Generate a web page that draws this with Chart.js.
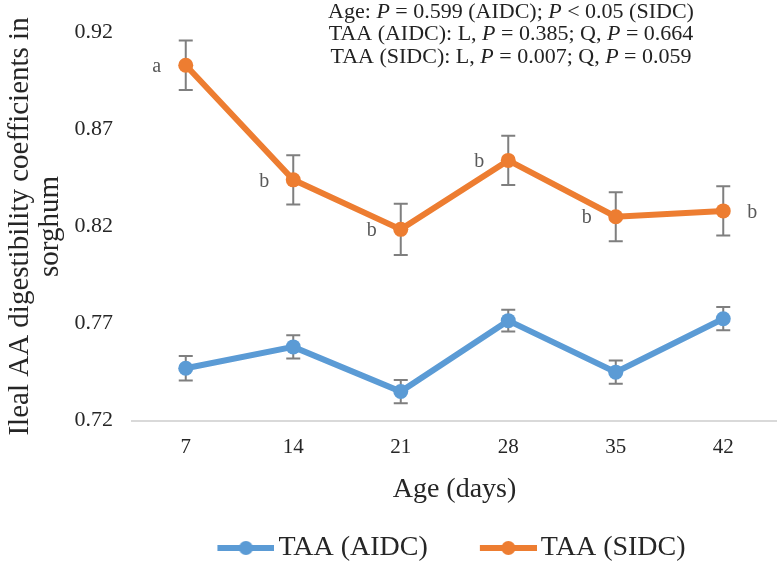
<!DOCTYPE html>
<html>
<head>
    <title>Ileal AA digestibility of sorghum by age</title>
    <script src="https://cdn.jsdelivr.net/npm/chart.js"></script>
    <style>
        body { margin: 0; background: #ffffff; }
        #wrap { width: 777px; height: 563px; position: relative; }
    </style>
</head>
<body>
    <div id="wrap"><canvas id="aaChart"></canvas></div>

    <script>
        // Data
        var ageDays = ['7', '14', '21', '28', '35', '42'];
        var taaAidc = [0.747, 0.758, 0.735, 0.7715, 0.745, 0.7725];
        var taaSidc = [0.903, 0.844, 0.8185, 0.854, 0.825, 0.828];
        var seAidc = [0.0063, 0.006, 0.006, 0.0056, 0.006, 0.006];
        var seSidc = [0.0127, 0.0127, 0.0132, 0.0127, 0.0126, 0.0127];
        var sidcLetters = ['a', 'b', 'b', 'b', 'b', 'b'];
        var yTicks = [0.72, 0.77, 0.82, 0.87, 0.92];

        // Statistics note, [text, italic] runs per line
        var noteLines = [
            [['Age: ', false], ['P', true], [' = 0.599 (AIDC); ', false], ['P', true], [' < 0.05 (SIDC)', false]],
            [['TAA (AIDC): L, ', false], ['P', true], [' = 0.385; Q, ', false], ['P', true], [' = 0.664', false]],
            [['TAA (SIDC): L, ', false], ['P', true], [' = 0.007; Q, ', false], ['P', true], [' = 0.059', false]]
        ];

        var serif = '"Liberation Serif", "Times New Roman", serif';
        var blue = '#5B9BD5';
        var orange = '#ED7D31';

        // legend marker: line with a dot, drawn into a small canvas
        function legendIcon(color) {
            var c = document.createElement('canvas');
            c.width = 61;
            c.height = 16;
            var g = c.getContext('2d');
            g.strokeStyle = color;
            g.lineWidth = 6;
            g.beginPath();
            g.moveTo(4, 8);
            g.lineTo(61, 8);
            g.stroke();
            g.fillStyle = color;
            g.beginPath();
            g.arc(32.5, 8, 7, 0, Math.PI * 2);
            g.fill();
            return c;
        }

        var errorBars = {
            id: 'errorBars',
            beforeDatasetsDraw: function (chart) {
                var ctx = chart.ctx;
                var x = chart.scales.x, y = chart.scales.y;
                var sets = [seAidc, seSidc];
                ctx.save();
                ctx.strokeStyle = '#7f7f7f';
                ctx.lineWidth = 2;
                chart.data.datasets.forEach(function (ds, d) {
                    ds.data.forEach(function (v, i) {
                        var px = x.getPixelForValue(i);
                        var top = y.getPixelForValue(v + sets[d][i]);
                        var bot = y.getPixelForValue(v - sets[d][i]);
                        ctx.beginPath();
                        ctx.moveTo(px, top); ctx.lineTo(px, bot);
                        ctx.moveTo(px - 7, top); ctx.lineTo(px + 7, top);
                        ctx.moveTo(px - 7, bot); ctx.lineTo(px + 7, bot);
                        ctx.stroke();
                    });
                });
                ctx.restore();
            }
        };

        var letters = {
            id: 'letters',
            afterDatasetsDraw: function (chart, args, opts) {
                var ctx = chart.ctx;
                var x = chart.scales.x, y = chart.scales.y;
                ctx.save();
                ctx.font = '20px ' + serif;
                ctx.fillStyle = '#595959';
                ctx.textAlign = 'center';
                ctx.textBaseline = 'middle';
                sidcLetters.forEach(function (t, i) {
                    var px = x.getPixelForValue(i) + opts.side[i] * 29;
                    var py = y.getPixelForValue(taaSidc[i]) + 1.5;
                    ctx.fillText(t, px, py);
                });
                ctx.restore();
            }
        };

        var note = {
            id: 'note',
            afterDraw: function (chart, args, opts) {
                var ctx = chart.ctx;
                ctx.save();
                ctx.fillStyle = '#222';
                ctx.textBaseline = 'middle';
                ctx.textAlign = 'left';
                noteLines.forEach(function (runs, li) {
                    var total = 0;
                    runs.forEach(function (r) {
                        ctx.font = (r[1] ? 'italic ' : '') + '22px ' + serif;
                        total += ctx.measureText(r[0]).width;
                    });
                    var cx = opts.centerX - total / 2;
                    var cy = opts.top + li * opts.lineGap;
                    runs.forEach(function (r) {
                        ctx.font = (r[1] ? 'italic ' : '') + '22px ' + serif;
                        ctx.fillText(r[0], cx, cy);
                        cx += ctx.measureText(r[0]).width;
                    });
                });
                ctx.restore();
            }
        };

        var ctx = document.getElementById('aaChart').getContext('2d');
        new Chart(ctx, {
            type: 'line',
            data: {
                labels: ageDays,
                datasets: [
                    {
                        label: 'TAA (AIDC)',
                        data: taaAidc,
                        borderColor: blue,
                        backgroundColor: blue,
                        borderWidth: 6,
                        pointRadius: 7.5,
                        pointBorderWidth: 0,
                        pointBackgroundColor: blue,
                        fill: false,
                        tension: 0
                    },
                    {
                        label: 'TAA (SIDC)',
                        data: taaSidc,
                        borderColor: orange,
                        backgroundColor: orange,
                        borderWidth: 6,
                        pointRadius: 7.5,
                        pointBorderWidth: 0,
                        pointBackgroundColor: orange,
                        fill: false,
                        tension: 0
                    }
                ]
            },
            options: {
                responsive: true,
                maintainAspectRatio: false,
                animation: false,
                layout: { autoPadding: false, padding: { top: 26.7, left: 0, right: 0, bottom: 0 } },
                scales: {
                    x: {
                        offset: true,
                        grid: { display: false, drawTicks: false },
                        border: { display: true, color: '#d9d9d9', width: 2 },
                        ticks: { color: '#262626', padding: 13.7, font: { family: serif, size: 21 } },
                        title: {
                            display: true,
                            text: 'Age (days)',
                            color: '#262626',
                            font: { family: serif, size: 28 },
                            padding: { top: 0, bottom: -30 }
                        },
                        afterFit: function (scale) {
                            scale.height = 55.3;
                            scale.paddingLeft = 0;
                            scale.paddingRight = 0;
                        }
                    },
                    y: {
                        min: 0.72,
                        max: 0.92,
                        grid: { display: false, drawTicks: false },
                        border: { display: false },
                        afterBuildTicks: function (scale) {
                            scale.ticks = yTicks.map(function (v) { return { value: v }; });
                        },
                        ticks: {
                            color: '#262626',
                            padding: 19,
                            font: { family: serif, size: 22 },
                            callback: function (v) { return Number(v).toFixed(2); }
                        },
                        title: {
                            display: true,
                            text: ['Ileal AA digestibility coefficients in', 'sorghum'],
                            color: '#262626',
                            font: { family: serif, size: 29, lineHeight: 30 / 29 },
                            padding: { top: 5, bottom: 0 }
                        },
                        afterFit: function (scale) { scale.width = 132; }
                    }
                },
                plugins: {
                    legend: {
                        position: 'bottom',
                        fullSize: false,
                        maxHeight: 87,
                        labels: {
                            usePointStyle: true,
                            pointStyleWidth: 41,
                            padding: 58,
                            color: '#262626',
                            font: { family: serif, size: 28 },
                            generateLabels: function (chart) {
                                return chart.data.datasets.map(function (ds, i) {
                                    return {
                                        text: ds.label,
                                        datasetIndex: i,
                                        pointStyle: legendIcon(ds.borderColor),
                                        fillStyle: ds.borderColor,
                                        strokeStyle: ds.borderColor,
                                        lineWidth: 0,
                                        hidden: false,
                                        fontColor: '#262626'
                                    };
                                });
                            }
                        }
                    },
                    tooltip: { enabled: false },
                    letters: { side: [-1, -1, -1, -1, -1, 1] },
                    note: { centerX: 511, top: 12, lineGap: 22.5 }
                }
            },
            plugins: [errorBars, letters, note]
        });
    </script>
</body>
</html>
